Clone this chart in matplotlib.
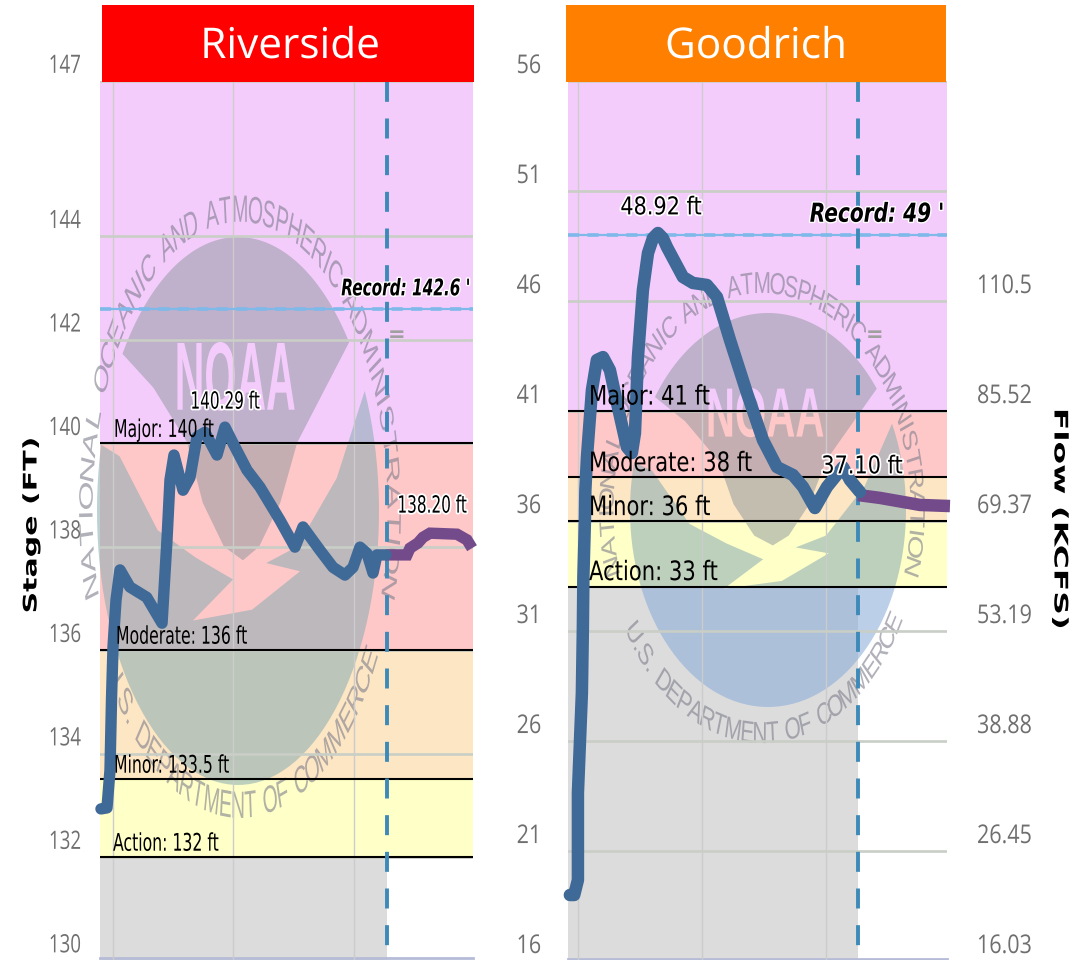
import numpy as np
import matplotlib
matplotlib.use("Agg")
import matplotlib.pyplot as plt
import matplotlib.patheffects as pe
from matplotlib.patches import Polygon, Rectangle
from matplotlib.transforms import Affine2D, ScaledTranslation, Bbox

# ---------- data ----------
riv_obs_day = [-0.10, -0.05, -0.025, -0.012, 0.0, 0.025, 0.058, 0.14, 0.28, 0.407, 0.448, 0.473, 0.506,
               0.581, 0.639, 0.697, 0.763, 0.863, 0.929, 0.996, 1.112, 1.22, 1.386, 1.51, 1.577, 1.718,
               1.826, 1.925, 1.992, 2.05, 2.108, 2.158, 2.191, 2.266]
riv_obs_ft = [132.93, 132.95, 133.68, 135.09, 136.06, 136.97, 137.55, 137.22, 137.02, 136.52, 138.13, 139.29,
              139.77, 139.09, 139.34, 140.12, 140.21, 139.77, 140.31, 140.0, 139.48, 139.15, 138.51, 137.99,
              138.38, 137.93, 137.6, 137.45, 137.6, 137.99, 137.87, 137.49, 137.84, 137.84]
riv_fc_day = [2.266, 2.44, 2.465, 2.531, 2.573, 2.631, 2.855, 2.938, 2.98]
riv_fc_ft = [137.84, 137.84, 137.97, 138.07, 138.18, 138.26, 138.24, 138.13, 137.97]

goo_obs_day = [-0.065, -0.03, 0.0, 0.0, 0.032, 0.04, 0.044, 0.056, 0.06, 0.073, 0.113, 0.153, 0.202, 0.258,
               0.315, 0.395, 0.435, 0.46, 0.484, 0.524, 0.565, 0.605, 0.645, 0.685, 0.718, 0.847, 0.927, 1.04,
               1.121, 1.226, 1.363, 1.492, 1.605, 1.734, 1.815, 1.911, 2.008, 2.137, 2.194, 2.274]
goo_obs_ft = [19.0, 19.0, 19.68, 23.64, 28.18, 31.18, 33.45, 35.91, 37.41, 38.91, 41.95, 43.32, 43.45, 42.86,
              41.36, 39.36, 39.09, 40.0, 43.45, 46.5, 48.18, 48.86, 49.09, 48.86, 48.45, 47.09, 46.82, 46.73,
              46.18, 44.23, 41.82, 39.68, 38.45, 38.09, 37.55, 36.59, 37.55, 38.45, 37.86, 37.32]
goo_fc_day = [2.258, 2.435, 2.758, 3.0]
goo_fc_ft = [37.18, 37.05, 36.73, 36.68]

riv_ticks = [130, 132, 134, 136, 138, 140, 142, 144, 147]
goo_ticks = [16, 21, 26, 31, 36, 41, 46, 51, 56]
flow_stage = [16, 21, 26, 31, 36, 41, 46]
flow_labels = ['16.03', '26.45', '38.88', '53.19', '69.37', '85.52', '110.5']

riv_stages = {'Action': 132, 'Minor': 133.5, 'Moderate': 136, 'Major': 140}
goo_stages = {'Action': 33, 'Minor': 36, 'Moderate': 38, 'Major': 41}
riv_stage_text = ['Action: 132 ft', 'Minor: 133.5 ft', 'Moderate: 136 ft', 'Major: 140 ft']
goo_stage_text = ['Action: 33 ft', 'Minor: 36 ft', 'Moderate: 38 ft', 'Major: 41 ft']
riv_record, goo_record = 142.6, 49
riv_now, goo_now = 2.274, 2.258
grid_days = [0, 1, 2]

# ---------- style ----------
W, H = 1088, 960
plt.rcParams['lines.scale_dashes'] = False
BAND = {'grey': '#dcdcdc', 'Action': '#ffffc8', 'Minor': '#fde6c3', 'Moderate': '#ffc8c8', 'Major': '#f4ccfb'}
OBS, FC = '#3f6997', '#734b8b'
TICK = '#6f6f6f'


class Stretch(pe.AbstractPathEffect):
    """Draw a text stretched vertically about its own centre (or a fixed display y)."""
    def __init__(self, sy, cy=None, halo=0):
        super().__init__()
        self.sy, self.cy, self.halo = sy, cy, halo

    def draw_path(self, renderer, gc, tpath, affine, rgbFace=None):
        cy = self.cy
        if cy is None:
            e = affine.transform_path(tpath).get_extents()
            cy = (e.y0 + e.y1) / 2
        a = affine + Affine2D().translate(0, -cy).scale(1, self.sy).translate(0, cy)
        if self.halo:
            g = renderer.new_gc()
            g.copy_properties(gc)
            g.set_linewidth(self.halo)
            g.set_foreground('white')
            g.set_alpha(1)
            renderer.draw_path(g, tpath, a, (1, 1, 1, 1))
            g.restore()
        renderer.draw_path(gc, tpath, a, rgbFace)


fig = plt.figure(figsize=(W / 100, H / 100), dpi=100)


def px_axes(x0, x1, y0, y1):
    return fig.add_axes([x0 / W, 1 - y1 / H, (x1 - x0) / W, (y1 - y0) / H])


def put(x, y, s, size, sy=1.0, halo=0, **kw):
    kw.setdefault('ha', 'center')
    kw.setdefault('va', 'center')
    t = fig.text(x / W, 1 - y / H, s, fontsize=size, **kw)
    t.set_path_effects([Stretch(sy, halo=halo)])
    return t


def logo(ax, cx, cy, rx, ry, ring_rx, ring_ry, rcx, ring_size, mark_xy, bands, lower_cols):
    tr = Affine2D().scale(rx, -ry).translate(cx, H - cy)

    def arc(a, b):
        th = np.radians(np.linspace(a, b, 80))
        return np.c_[np.cos(th), np.sin(th)]
    lower = np.vstack([arc(-26, 194), [(-.84, -.2), (-.57, .07), (-.3, .17), (-.035, .25), (-.32, .4),
                                      (.1, .36), (.44, .22), (.2, .19), (.42, .13), (.7, -.12)]])
    dome = np.vstack([arc(215, 322), [(.42, -.25), (.3, -.03), (.15, .13), (.035, .18), (-.1, .13),
                                      (-.25, -.03), (-.36, -.25), (-.6, -.45)]])
    for col, yb in lower_cols:
        p = Polygon(lower, closed=True, transform=tr, fc=col, alpha=.55, lw=0, zorder=2)
        ax.add_patch(p)
        p.set_clip_path(None)
        p.set_clip_box(Bbox([[0, H - yb[1]], [W, H - yb[0]]]))
        p.set_clip_on(True)
    ax.add_patch(Polygon(dome, closed=True, transform=tr, fc='#8b959d', alpha=.5, lw=0, zorder=2, clip_on=False))
    # NOAA letters
    lx, ly = cx - .02 * rx, cy - .48 * ry
    size = rx * .21
    for col, yb in bands:
        t = ax.text(lx, H - ly, 'NOAA', transform=None, fontsize=size, family='Liberation Sans',
                    weight='bold', color=col, ha='center', va='center', zorder=2.1)
        t.set_path_effects([Stretch(.255 * ry / (.72 * size * 100 / 72))])
        t.set_clip_box(Bbox([[0, H - yb[1]], [W, H - yb[0]]]))
        t.set_clip_on(True)
    # ring text: a circle stretched to an ellipse
    sy = ring_ry / ring_rx
    ycy = H - cy

    def ring(text, a0, a1, upper):
        weights = [.45 if c in 'I.' else .6 if c == ' ' else 1.25 if c == 'M' else 1. for c in text]
        pos = (np.cumsum(weights) - np.array(weights) / 2) / sum(weights)
        for c, p in zip(text, pos):
            a = a0 + (a1 - a0) * p
            r = np.radians(a)
            x, y = rcx + ring_rx * np.cos(r), ycy + ring_rx * np.sin(r)
            rot = a - 90 if upper else a + 90
            t = ax.text(x, y, c, transform=None, fontsize=ring_size, family='Liberation Sans', color='#7d7d8d',
                        alpha=.6, rotation=rot, rotation_mode='anchor', ha='center', va='center', zorder=2.2,
                        clip_on=False)
            t.set_path_effects([Stretch(sy, cy=ycy)])
    ring('NATIONAL OCEANIC AND ATMOSPHERIC ADMINISTRATION', 197, -17, True)
    ring('U.S. DEPARTMENT OF COMMERCE', 211, 332, False)
    ax.text(mark_xy[0], H - mark_xy[1], '=', transform=None, fontsize=15, weight='bold', color='#a0a0a0',
            ha='center', va='center', zorder=2.2, clip_on=False)


def panel(box, xlim, ylim, ticks, tick_pad, tick_size, tick_sy, stages, now, record, obs, fc, lw):
    ax = px_axes(*box)
    ax.set_xlim(*xlim)
    ax.set_ylim(*ylim)
    ax.set_facecolor('white')
    # bands
    names = ['Action', 'Minor', 'Moderate', 'Major']
    edges = [stages[n] for n in names] + [ylim[1]]
    ax.fill_between([xlim[0], now], ylim[0], edges[0], color=BAND['grey'], lw=0, zorder=1)
    for n, a, b in zip(names, edges[:-1], edges[1:]):
        ax.axhspan(a, b, color=BAND[n], lw=0, zorder=1)
    # grid & ticks
    ax.set_axisbelow(False)
    ax.set_xticks(grid_days)
    ax.set_yticks(ticks)
    ax.set_yticklabels([str(t) for t in ticks])
    ax.set_xticklabels([])
    ax.xaxis.grid(True, color='#cccccc', lw=1.0)
    ax.yaxis.grid(True, color='#c9cec6', lw=1.9)
    ax.tick_params(length=0, pad=tick_pad, labelsize=tick_size, labelcolor=TICK)
    for s in ('left', 'right', 'top'):
        ax.spines[s].set_visible(False)
    ax.spines['bottom'].set_color('#b6bcd8')
    ax.spines['bottom'].set_linewidth(2)
    ax.spines['bottom'].set_position(('data', ylim[0] + 2.5 * (ylim[1] - ylim[0]) / (box[3] - box[2])))
    off = ScaledTranslation(0, 17.5 / 100, fig.dpi_scale_trans)
    for lab in ax.get_yticklabels():
        lab.set_transform(lab.get_transform() + off)
        lab.set_family('Open Sans')
        lab.set_path_effects([Stretch(tick_sy)])
    # thresholds
    for n in names:
        ax.axhline(stages[n], color='black', lw=1.5, zorder=3)
    ax.axhline(record, color='#7fb9ea', lw=1.6, zorder=3)
    ax.axhline(record, color='#7fb9ea', lw=2.6, zorder=3, ls=(0, (8, 6)))
    ax.axvline(now, color='#3d8ab8', lw=2.8, zorder=3.5, ls=(15, (14.4, 12)))
    # series
    ax.plot(fc[0], fc[1], color=FC, lw=lw, zorder=4, clip_on=False, solid_capstyle='butt', solid_joinstyle='miter')
    ax.plot(obs[0], obs[1], color=OBS, lw=lw, zorder=4.5, clip_on=False, solid_capstyle='round', solid_joinstyle='round')
    return ax


# ---------- panels ----------
ax1 = panel((100, 473, 81, 960.5), (-0.108, 2.988), (130, 147), riv_ticks, 13.7, 13.5, 1.35, riv_stages, riv_now,
            riv_record, (riv_obs_day, riv_obs_ft), (riv_fc_day, riv_fc_ft), 8.2)
ax2 = panel((568, 947, 81, 961), (-0.08, 2.976), (16, 56), goo_ticks, 19.4, 15.5, 1.2, goo_stages, goo_now,
            goo_record, (goo_obs_day, goo_obs_ft), (goo_fc_day, goo_fc_ft), 9.0)

logo(ax1, 238, 511, 141, 274, 152, 298, 240, 14.0, (397, 335), [(BAND['Major'], (0, 443))], [('#87abb2', (0, 960))])
logo(ax2, 768, 510, 138, 197, 154, 225, 762, 15.0, (875, 335), [(BAND['Major'], (0, 411)), (BAND['Moderate'], (411, 960))],
     [('#87abb2', (0, 587)), ('#85a9d8', (587, 960))])

# flow axis on the right panel
axf = ax2.twinx()
axf.set_ylim(ax2.get_ylim())
axf.set_yticks(flow_stage)
axf.set_yticklabels(flow_labels)
axf.tick_params(length=0, pad=21.6, labelsize=15.5, labelcolor=TICK)
for s in axf.spines.values():
    s.set_visible(False)
off = ScaledTranslation(0, 17.5 / 100, fig.dpi_scale_trans)
for lab in axf.get_yticklabels():
    lab.set_transform(lab.get_transform() + off)
    lab.set_family('Open Sans')
    lab.set_path_effects([Stretch(1.2)])

# stage labels
for s, y, x in zip(riv_stage_text, [843, 765, 636, 430], [113, 114, 116, 114]):
    put(x, y, s, 11.3, 1.55, ha='left', zorder=3.2)
for s, y in zip(goo_stage_text, [572, 507, 463, 397]):
    put(589, y, s, 15.2, 1.27, ha='left', zorder=3.2)

# value / record labels
put(225, 401, '140.29 ft', 11, 1.55, halo=2.5)
put(432, 505, '138.20 ft', 11, 1.55, halo=2.5)
put(661, 207, '48.92 ft', 15, 1.18, halo=2.5)
put(862, 466, '37.10 ft', 15, 1.18, halo=2.5)
put(470, 288, "Record: 142.6 '", 11.0, 1.5, halo=2, ha='right', weight='bold', style='italic')
put(944, 214, "Record: 49 '", 14.5, 1.3, halo=2, ha='right', weight='bold', style='italic')

# header bars
fig.add_artist(Rectangle((102 / W, 1 - 82 / H), 372 / W, 77 / H, transform=fig.transFigure, fc='#ff0000', lw=0))
fig.add_artist(Rectangle((566 / W, 1 - 82 / H), 380 / W, 77 / H, transform=fig.transFigure, fc='#ff8000', lw=0))
put(290, 47, 'Riverside', 30.5, color='white', family='Open Sans')
put(756, 47, 'Goodrich', 30.5, color='white', family='Open Sans')

# axis titles
put(31, 525, 'Stage (FT)', 13.5, 1.6, rotation=90, weight='bold')
put(1060, 519, 'Flow (KCFS)', 13.5, 1.75, rotation=270, weight='bold')

fig.savefig('out.png', dpi=100)
